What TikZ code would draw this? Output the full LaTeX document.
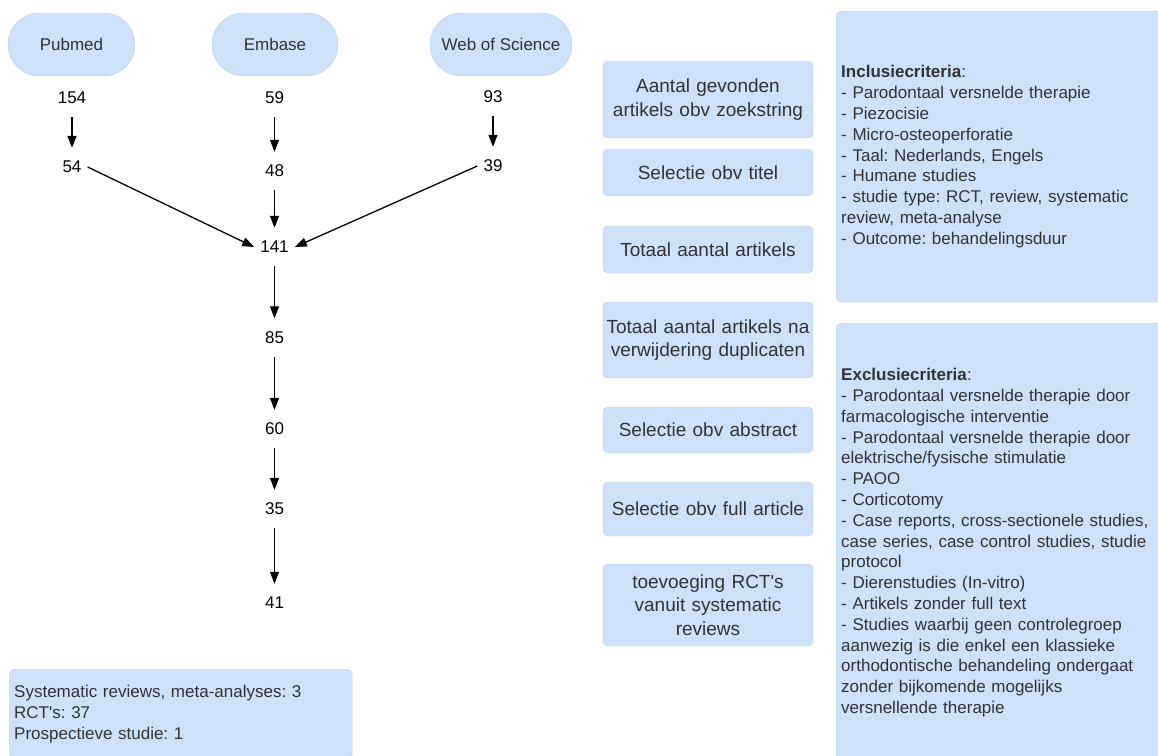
\documentclass[tikz,border=0pt]{standalone}
\usepackage{fontspec}
\setmainfont{Liberation Sans}
\usepackage{xcolor}
\usepackage{tikz}
\usetikzlibrary{arrows.meta}
\frenchspacing

\definecolor{boxBlue}{RGB}{206, 225, 248}
\definecolor{boxLine}{RGB}{184, 207, 236}
\definecolor{textGray}{RGB}{50, 50, 55}

\tikzset{
  db/.style = {draw = boxLine, fill = boxBlue, rounded corners = 31.5pt, minimum height = 63pt,
    text = textGray, font = \fontsize{17}{20.8}\selectfont},
  count/.style = {minimum height = 38pt, inner xsep = 6pt, font = \fontsize{17}{20.8}\selectfont},
  stepbox/.style = {draw = boxLine, fill = boxBlue, rounded corners = 5pt, text width = 208pt,
    inner xsep = 1pt, align = center, text = textGray, font = \fontsize{19}{23.3}\selectfont},
  infobox/.style = {draw = boxLine, fill = boxBlue, rounded corners = 5pt, anchor = north west,
    inner xsep = 5pt, align = left, text = textGray, font = \fontsize{17}{20.8}\selectfont},
  flow/.style = {-{Triangle[length = 12pt, width = 9pt]}, line width = 1.3pt}
}

\begin{document}
\begin{tikzpicture}[x = 1pt, y = -1pt]
  \path[use as bounding box, clip] (0, 0) rectangle (1158, 755);

  % databanken
  \node[db, minimum width = 127pt] (pubmed) at (71.5, 44.5) {Pubmed};
  \node[db, minimum width = 126pt] (embase) at (275, 44.5) {Embase};
  \node[db, minimum width = 142pt] (wos) at (501, 44.5) {Web of Science};

  \node[count] (n154) at (72, 98) {154};
  \node[count] (n59) at (274.5, 98) {59};
  \node[count] (n93) at (493, 97) {93};
  \node[count] (n54) at (72, 167) {54};
  \node[count] (n48) at (274.5, 171) {48};
  \node[count] (n39) at (493, 166) {39};
  \node[count] (n141) at (274.5, 247) {141};
  \node[count] (n85) at (274.5, 337.5) {85};
  \node[count] (n60) at (274.5, 429) {60};
  \node[count] (n35) at (274.5, 509) {35};
  \node[count] (n41) at (274.5, 603) {41};

  \draw[flow] (n154.south) -- (n54.north);
  \draw[flow] (n59.south) -- (n48.north);
  \draw[flow] (n93.south) -- (n39.north);
  \draw[flow] (n48.south) -- (n141.north);
  \draw[flow] (n54.east) -- (n141.west);
  \draw[flow] (n39.west) -- (n141.east);
  \draw[flow] (n141.south) -- (n85.north);
  \draw[flow] (n85.south) -- (n60.north);
  \draw[flow] (n60.south) -- (n35.north);
  \draw[flow] (n35.south) -- (n41.north);

  % stappen
  \node[stepbox, minimum height = 77pt] (zoek) at (708, 99.5) {Aantal gevonden\\artikels obv zoekstring};
  \node[stepbox, minimum height = 47pt] (titel) at (708, 172.5) {Selectie obv titel};
  \node[stepbox, minimum height = 47pt] (totaal) at (708, 249.5) {Totaal aantal artikels};
  \node[stepbox, minimum height = 76pt] (dupl) at (708, 340) {Totaal aantal artikels na\\verwijdering duplicaten};
  \node[stepbox, minimum height = 46pt] (abstr) at (708, 430) {Selectie obv abstract};
  \node[stepbox, minimum height = 54pt] (full) at (708, 509) {Selectie obv full article};
  \node[stepbox, minimum height = 82pt] (toev) at (708, 605) {toevoeging RCT\textquotesingle s\\vanuit systematic\\reviews};

  % criteria
  \node[infobox, text width = 316pt, minimum height = 291pt] (incl) at (836, 11) {\textbf{Inclusiecriteria}:\\
    - Parodontaal versnelde therapie\\
    - Piezocisie\\
    - Micro-osteoperforatie\\
    - Taal: Nederlands, Engels\\
    - Humane studies\\
    - studie type: RCT, review, systematic\\
    review, meta-analyse\\
    - Outcome: behandelingsduur};
  \node[infobox, text width = 316pt, minimum height = 439pt] (excl) at (836, 323) {\textbf{Exclusiecriteria}:\\
    - Parodontaal versnelde therapie door\\
    farmacologische interventie\\
    - Parodontaal versnelde therapie door\\
    elektrische/fysische stimulatie\\
    - PAOO\\
    - Corticotomy\\
    - Case reports, cross-sectionele studies,\\
    case series, case control studies, studie\\
    protocol\\
    - Dierenstudies (In-vitro)\\
    - Artikels zonder full text\\
    - Studies waarbij geen controlegroep\\
    aanwezig is die enkel een klassieke\\
    orthodontische behandeling ondergaat\\
    zonder bijkomende mogelijks\\
    versnellende therapie};

  \node[infobox, text width = 333pt, minimum height = 90pt] (result) at (9, 669) {Systematic reviews, meta-analyses: 3\\
    RCT\textquotesingle s: 37\\
    Prospectieve studie: 1};
\end{tikzpicture}
\end{document}
